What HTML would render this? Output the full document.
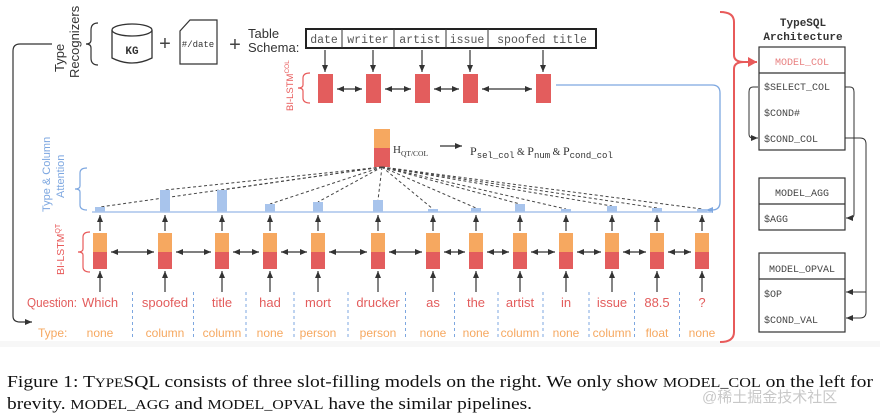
<!DOCTYPE html>
<html><head><meta charset="utf-8"><style>
html,body{margin:0;padding:0;background:#fff;}
svg{display:block;}
</style></head><body>
<svg id="fig" width="880" height="418" viewBox="0 0 880 418" xmlns="http://www.w3.org/2000/svg" font-family="Liberation Sans, sans-serif">
<defs>
<marker id="ah" markerWidth="8" markerHeight="8" refX="7" refY="4" orient="auto-start-reverse" markerUnits="userSpaceOnUse"><path d="M0,1 L7,4 L0,7 Z" fill="#333"/></marker>
<marker id="ahb" markerWidth="8" markerHeight="8" refX="7" refY="4" orient="auto" markerUnits="userSpaceOnUse"><path d="M0,1 L7,4 L0,7 Z" fill="#7da7e0"/></marker>
<marker id="ahr" markerWidth="10" markerHeight="10" refX="9" refY="5" orient="auto" markerUnits="userSpaceOnUse"><path d="M0,0 L9,5 L0,10 Z" fill="#e85a5a"/></marker>
</defs>
<rect x="0" y="341" width="880" height="6" fill="#f7f7f7"/>
<g>
<text transform="translate(64,72) rotate(-90)" font-size="13" fill="#333">Type</text>
<text transform="translate(79,78) rotate(-90)" font-size="13" fill="#333">Recognizers</text>
<path d="M98,23 Q91,23 91,30 L91,40 Q91,44 86,44 Q91,44 91,48 L91,58 Q91,65 98,65" fill="none" stroke="#333" stroke-width="1.2"/>
<path d="M112,30 L112,58 Q132,68 152,58 L152,30" fill="none" stroke="#333" stroke-width="1.3"/>
<ellipse cx="132" cy="30" rx="20" ry="6" fill="#fff" stroke="#333" stroke-width="1.3"/>
<text x="132" y="54" font-family="Liberation Mono, monospace" font-weight="bold" font-size="11" text-anchor="middle" fill="#333">KG</text>
<text x="165" y="50" font-size="20" text-anchor="middle" fill="#444">+</text>
<path d="M190,20 L217,20 L217,64 L180,64 L180,31 Z" fill="none" stroke="#333" stroke-width="1.2"/>
<text x="198" y="47" font-family="Liberation Mono, monospace" font-size="9" text-anchor="middle" fill="#333">#/date</text>
<text x="235" y="51" font-size="20" text-anchor="middle" fill="#444">+</text>
<text x="248" y="38" font-size="13" fill="#333">Table</text>
<text x="248" y="52" font-size="13" fill="#333">Schema:</text>
</g>
<path d="M52,44 L20,44 Q13,44 13,51 L13,316 Q13,322 20,322 L32,322" fill="none" stroke="#333" stroke-width="1.2" marker-end="url(#ah)"/>
<g id="schema"></g>
<g id="collstm"></g>
<text transform="translate(293,111) rotate(-90)" font-size="9.5" fill="#e85a5a">BI-LSTM<tspan font-size="6.5" dy="-4">COL</tspan></text>
<path d="M310,73 Q303,73 303,78 L303,85 Q303,88 298,88 Q303,88 303,91 L303,98 Q303,103 310,103" fill="none" stroke="#e85a5a" stroke-width="1.2"/>
<path d="M556,85 L712,85 Q720,85 720,93 L720,202 Q720,210 712,210 L706,210" fill="none" stroke="#7da7e0" stroke-width="1.3" marker-end="url(#ahb)"/>
<g>
<rect x="374" y="129" width="16" height="19" fill="#f6a860"/>
<rect x="374" y="148" width="16" height="19" fill="#e35d5d"/>
<text x="393" y="153" font-family="Liberation Serif, serif" font-size="11" fill="#333">H<tspan font-size="7.5" dy="3">QT/COL</tspan></text>
<line x1="440" y1="146" x2="462" y2="146" stroke="#333" stroke-width="1.3" marker-end="url(#ah)"/>
<text x="470" y="155" font-family="Liberation Serif, serif" font-size="12" fill="#333">P<tspan font-family="Liberation Mono, monospace" font-size="9" dy="3">sel_col</tspan><tspan dy="-3" font-size="10"> &amp; </tspan>P<tspan font-family="Liberation Mono, monospace" font-size="9" dy="3">num</tspan><tspan dy="-3" font-size="10"> &amp; </tspan>P<tspan font-family="Liberation Mono, monospace" font-size="9" dy="3">cond_col</tspan></text>
</g>
<g>
<text transform="translate(50,212) rotate(-90)" font-size="11" fill="#7da7e0">Type &amp; Column</text>
<text transform="translate(64,198) rotate(-90)" font-size="11" fill="#7da7e0">Attention</text>
<path d="M87,168 Q80,168 80,173 L80,186 Q80,189 75,189 Q80,189 80,192 L80,205 Q80,210 87,210" fill="none" stroke="#7da7e0" stroke-width="1.2"/>
<text transform="translate(64,275) rotate(-90)" font-size="10.5" fill="#e85a5a">BI-LSTM<tspan font-size="7" dy="-4">QT</tspan></text>
<path d="M90,232 Q83,232 83,237 L83,249 Q83,252 78,252 Q83,252 83,255 L83,267 Q83,272 90,272" fill="none" stroke="#e85a5a" stroke-width="1.2"/>
<text x="27" y="307" font-size="12.5" fill="#e35d5d" textLength="50" lengthAdjust="spacingAndGlyphs">Question:</text>
<text x="38" y="337" font-size="12" fill="#f6a860">Type:</text>
</g>
<g id="attn"></g>
<g id="qlstm"></g>
<g id="words"></g>
<g font-family="Liberation Mono, monospace" font-size="10" fill="#444">
<path d="M720,12 Q734,12 734,22 L734,55 Q734,62 744,62 Q734,62 734,69 L734,332 Q734,342 720,342" fill="none" stroke="#e85a5a" stroke-width="2"/>
<line x1="738" y1="62" x2="757" y2="62" stroke="#e85a5a" stroke-width="2" marker-end="url(#ahr)"/>
<text x="803" y="26" text-anchor="middle" font-weight="bold" font-size="11" fill="#333">TypeSQL</text>
<text x="803" y="40" text-anchor="middle" font-weight="bold" font-size="11" fill="#333">Architecture</text>
<rect x="759" y="47" width="86" height="103" fill="none" stroke="#333" stroke-width="1.2"/>
<line x1="759" y1="73" x2="845" y2="73" stroke="#333" stroke-width="1.2"/>
<text x="802" y="65" text-anchor="middle" fill="#e88080">MODEL_COL</text>
<text x="764" y="90">$SELECT_COL</text>
<text x="764" y="116">$COND#</text>
<text x="764" y="142">$COND_COL</text>
<rect x="759" y="178" width="86" height="52" fill="none" stroke="#333" stroke-width="1.2"/>
<line x1="759" y1="204" x2="845" y2="204" stroke="#333" stroke-width="1.2"/>
<text x="802" y="196" text-anchor="middle">MODEL_AGG</text>
<text x="764" y="222">$AGG</text>
<rect x="759" y="253" width="86" height="79" fill="none" stroke="#333" stroke-width="1.2"/>
<line x1="759" y1="279" x2="845" y2="279" stroke="#333" stroke-width="1.2"/>
<text x="802" y="272" text-anchor="middle">MODEL_OPVAL</text>
<text x="764" y="297">$OP</text>
<text x="764" y="323">$COND_VAL</text>
<path d="M758,87 L753,87 Q749,87 749,92 L749,134 Q749,138 753,138 L758,138" fill="none" stroke="#333" stroke-width="1" marker-end="url(#ah)"/>
<path d="M845,87 L850,87 Q854,87 854,92 L854,214 Q854,218 850,218 L846,218" fill="none" stroke="#333" stroke-width="1" marker-end="url(#ah)"/>
<path d="M845,138 L860,138 Q866,138 866,144 L866,312 Q866,318 860,318 L846,318" fill="none" stroke="#333" stroke-width="1" marker-end="url(#ah)"/>
<path d="M866,292 L846,292" fill="none" stroke="#333" stroke-width="1" marker-end="url(#ah)"/>
</g>
<g font-family="Liberation Serif, serif" font-size="17" fill="#111">
<text x="7" y="387" textLength="866" lengthAdjust="spacingAndGlyphs">Figure 1: T<tspan font-size="13">YPE</tspan>SQL consists of three slot-filling models on the right. We only show <tspan font-size="14">MODEL_COL</tspan> on the left for</text>
<text x="7" y="409" textLength="525" lengthAdjust="spacingAndGlyphs">brevity. <tspan font-size="14">MODEL_AGG</tspan> and <tspan font-size="14">MODEL_OPVAL</tspan> have the similar pipelines.</text>
</g>
<text x="702" y="402" font-family="Liberation Sans, Noto Sans CJK SC, sans-serif" font-size="15" fill="#c8c8c8">@稀土掘金技术社区</text>
</svg>
<script>
const columns = ["date","writer","artist","issue","spoofed title"];
const words = ["Which","spoofed","title","had","mort","drucker","as","the","artist","in","issue","88.5","?"];
const types = ["none","column","column","none","person","person","none","none","column","none","column","float","none"];
const attention = [5,22,22,8,10,12,3,4,8,3,6,4,3];
const wordX = [100,165,222,270,318,378,433,476,520,566,612,657,702];
const colCells = [[306,342],[342,394],[394,446],[446,488],[488,596]];
const colX = [318,366,415,463,536];
const NS="http://www.w3.org/2000/svg";
function mk(p,t,a){const e=document.createElementNS(NS,t);for(const k in a)e.setAttribute(k,a[k]);p.appendChild(e);return e;}
const attnScale = v => 212 - v;
const schema=document.getElementById('schema');
mk(schema,'rect',{x:306,y:29,width:290,height:19,fill:'#fff',stroke:'#222','stroke-width':2});
columns.forEach((c,i)=>{
  const [a,b]=colCells[i];
  if(i>0){mk(schema,'line',{x1:a,y1:29,x2:a,y2:48,stroke:'#333'});}
  const t=mk(schema,'text',{x:(a+b)/2,y:43,'text-anchor':'middle','font-family':'Liberation Mono, monospace','font-size':11.5,fill:'#555'});
  t.textContent=c;
  
  
});
const cl=document.getElementById('collstm');
colX.forEach((x,i)=>{
  mk(cl,'line',{x1:x+7,y1:50,x2:x+7,y2:72,stroke:'#333','stroke-width':1.2,'marker-end':'url(#ah)'});
  const r=mk(cl,'rect',{x:x,y:74,width:15,height:29,fill:'#e35d5d'});
  
  
  if(i>0){mk(cl,'line',{x1:colX[i-1]+19,y1:89,x2:x-4,y2:89,stroke:'#333','stroke-width':1.2,'marker-start':'url(#ah)','marker-end':'url(#ah)'});}
});
const at=document.getElementById('attn');
mk(at,'line',{x1:92,y1:212,x2:712,y2:212,stroke:'#a8c4ec','stroke-width':1.5});
words.forEach((w,i)=>{
  const x=wordX[i], y=attnScale(attention[i]);
  mk(at,'line',{x1:382,y1:167,x2:x,y2:y,stroke:'#444','stroke-width':1,'stroke-dasharray':'3,2.5'});
});
words.forEach((w,i)=>{
  const x=wordX[i], y=attnScale(attention[i]);
  const r=mk(at,'rect',{x:x-5,y:y,width:10,height:212-y,fill:'#a8c4ec'});
  
  
});
const ql=document.getElementById('qlstm');
words.forEach((w,i)=>{
  const x=wordX[i];
  mk(ql,'line',{x1:x,y1:231,x2:x,y2:215,stroke:'#333','stroke-width':1.2,'marker-end':'url(#ah)'});
  mk(ql,'line',{x1:x,y1:292,x2:x,y2:271,stroke:'#333','stroke-width':1.2,'marker-end':'url(#ah)'});
  const a=mk(ql,'rect',{x:x-7,y:233,width:14,height:19,fill:'#f6a860'});
  
  
  const b=mk(ql,'rect',{x:x-7,y:252,width:14,height:17,fill:'#e35d5d'});
  
  
  if(i>0){mk(ql,'line',{x1:wordX[i-1]+11,y1:252,x2:x-11,y2:252,stroke:'#333','stroke-width':1.2,'marker-start':'url(#ah)','marker-end':'url(#ah)'});}
});
const wd=document.getElementById('words');
words.forEach((w,i)=>{
  const x=wordX[i];
  const t=mk(wd,'text',{x:x,y:307,'text-anchor':'middle','font-size':13,fill:'#e35d5d'});
  t.textContent=w;
  
  
  const u=mk(wd,'text',{x:x,y:337,'text-anchor':'middle','font-size':12,fill:'#f6a860'});
  u.textContent=types[i];
  
  
  if(i<words.length-1){const m=(x+wordX[i+1])/2;mk(wd,'line',{x1:m,y1:292,x2:m,y2:340,stroke:'#7da7e0','stroke-width':1,'stroke-dasharray':'3,3'});}
});
</script>
</body></html>
